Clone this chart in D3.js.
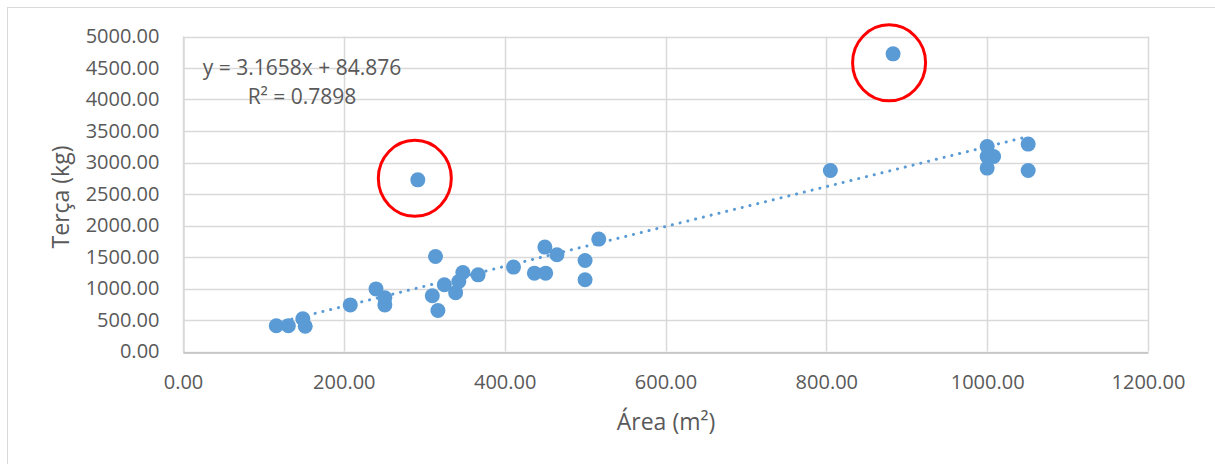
<!DOCTYPE html>
<html>
<head>
<meta charset="utf-8">
<script src="https://cdn.jsdelivr.net/npm/d3@7"></script>
<style>
  html, body { margin: 0; padding: 0; background: #fff; }
  svg { display: block; }
  text { font-family: "Open Sans", "Liberation Sans", sans-serif; fill: #595959; }
</style>
</head>
<body>
<svg id="chart" width="1215" height="464"></svg>
<script>
// ---- data ----
const area = [116, 131, 149, 152, 208, 240, 251, 251, 292, 310, 317, 314, 325, 339, 343, 348, 367, 411, 437, 451, 450, 465, 500, 500, 517, 805, 883, 1000, 1000, 1008, 1000, 1051, 1051];
const terca = [408, 408, 519, 400, 740, 994, 852, 740, 2725, 885, 651, 1508, 1059, 934, 1111, 1254, 1217, 1340, 1244, 1244, 1657, 1535, 1444, 1138, 1784, 2873, 4725, 3254, 3095, 3095, 2911, 3292, 2873];
const xTicks = [0, 200, 400, 600, 800, 1000, 1200];
const yTicks = [0, 500, 1000, 1500, 2000, 2500, 3000, 3500, 4000, 4500, 5000];
const slope = 3.1658, intercept = 84.876;
const equationText = "y = 3.1658x + 84.876";
const r2Text = "R² = 0.7898";
const xTitle = "Área (m²)";
const yTitle = "Terça (kg)";
// highlighted outliers (index into arrays)
const highlighted = [8, 26];

// ---- layout ----
const svg = d3.select("#chart");
const pLeft = 183, pRight = 1148, pTop = 36.5, pBottom = 351.5;
const x = d3.scaleLinear().domain([0, 1200]).range([pLeft, pRight]);
const y = d3.scaleLinear().domain([0, 5000]).range([pBottom, pTop]);
const fmt = d3.format(".2f");

// chart border
svg.append("rect").attr("x", 7.5).attr("y", 7.5).attr("width", 1220).attr("height", 470)
  .attr("fill", "#fff").attr("stroke", "#D9D9D9").attr("stroke-width", 1);

// gridlines
const grid = svg.append("g");
grid.selectAll("line.h").data(yTicks).join("line")
  .attr("x1", pLeft).attr("x2", pRight)
  .attr("y1", d => Math.round(y(d)) + 0.5).attr("y2", d => Math.round(y(d)) + 0.5)
  .attr("stroke", "#D9D9D9").attr("stroke-width", 1.5);
grid.selectAll("line.v").data(xTicks).join("line")
  .attr("y1", pTop).attr("y2", pBottom)
  .attr("x1", d => Math.round(x(d)) + 0.5).attr("x2", d => Math.round(x(d)) + 0.5)
  .attr("stroke", "#D9D9D9").attr("stroke-width", 1.5);

// axes
const xAxis = svg.append("g").attr("transform", `translate(0,${Math.round(pBottom) + 0.5})`)
  .call(d3.axisBottom(x).tickValues(xTicks).tickFormat(fmt).tickSize(0).tickPadding(22));
xAxis.select(".domain").attr("stroke", "#BFBFBF").attr("stroke-width", 1.5);
xAxis.selectAll("text").style("font-size", "20px").attr("fill", "#595959")
  .style("font-family", "'Open Sans', sans-serif");

const yAxis = svg.append("g").attr("transform", `translate(${Math.round(pLeft) + 0.5},0)`)
  .call(d3.axisLeft(y).tickValues(yTicks).tickFormat(fmt).tickSize(0).tickPadding(24));
yAxis.select(".domain").attr("stroke", "#D9D9D9").attr("stroke-width", 1.5);
yAxis.selectAll("text").style("font-size", "20px").attr("fill", "#595959")
  .style("font-family", "'Open Sans', sans-serif");

// trendline
const xMin = d3.min(area), xMax = d3.max(area) - 3;
svg.append("line")
  .attr("x1", x(xMin)).attr("y1", y(slope * xMin + intercept))
  .attr("x2", x(xMax)).attr("y2", y(slope * xMax + intercept))
  .attr("stroke", "#5B9BD5").attr("stroke-width", 3)
  .attr("stroke-linecap", "round").attr("stroke-dasharray", "0.1 7.9");

// points
svg.append("g").selectAll("circle").data(area).join("circle")
  .attr("cx", (d) => x(d)).attr("cy", (d, i) => y(terca[i]))
  .attr("r", 7.5).attr("fill", "#5B9BD5");

// red hand-drawn highlight circles (slightly off-centre, as in the original)
const ringShift = [[-3, -1.5], [-4, 9]];
svg.append("g").selectAll("ellipse").data(highlighted).join("ellipse")
  .attr("cx", (d, k) => x(area[d]) + ringShift[k][0])
  .attr("cy", (d, k) => y(terca[d]) + ringShift[k][1])
  .attr("rx", 36.5).attr("ry", 38)
  .attr("fill", "none").attr("stroke", "#FF0000").attr("stroke-width", 3);

// equation
svg.append("text").attr("x", 302).attr("y", 75).attr("text-anchor", "middle")
  .style("font-size", "21px").text(equationText);
svg.append("text").attr("x", 302).attr("y", 104).attr("text-anchor", "middle")
  .style("font-size", "21px").text(r2Text);

// axis titles
svg.append("text").attr("x", 666).attr("y", 430).attr("text-anchor", "middle")
  .style("font-size", "23px").text(xTitle);
svg.append("text").attr("transform", "translate(69,197) rotate(-90)").attr("text-anchor", "middle")
  .style("font-size", "23px").text(yTitle);
</script>
</body>
</html>
